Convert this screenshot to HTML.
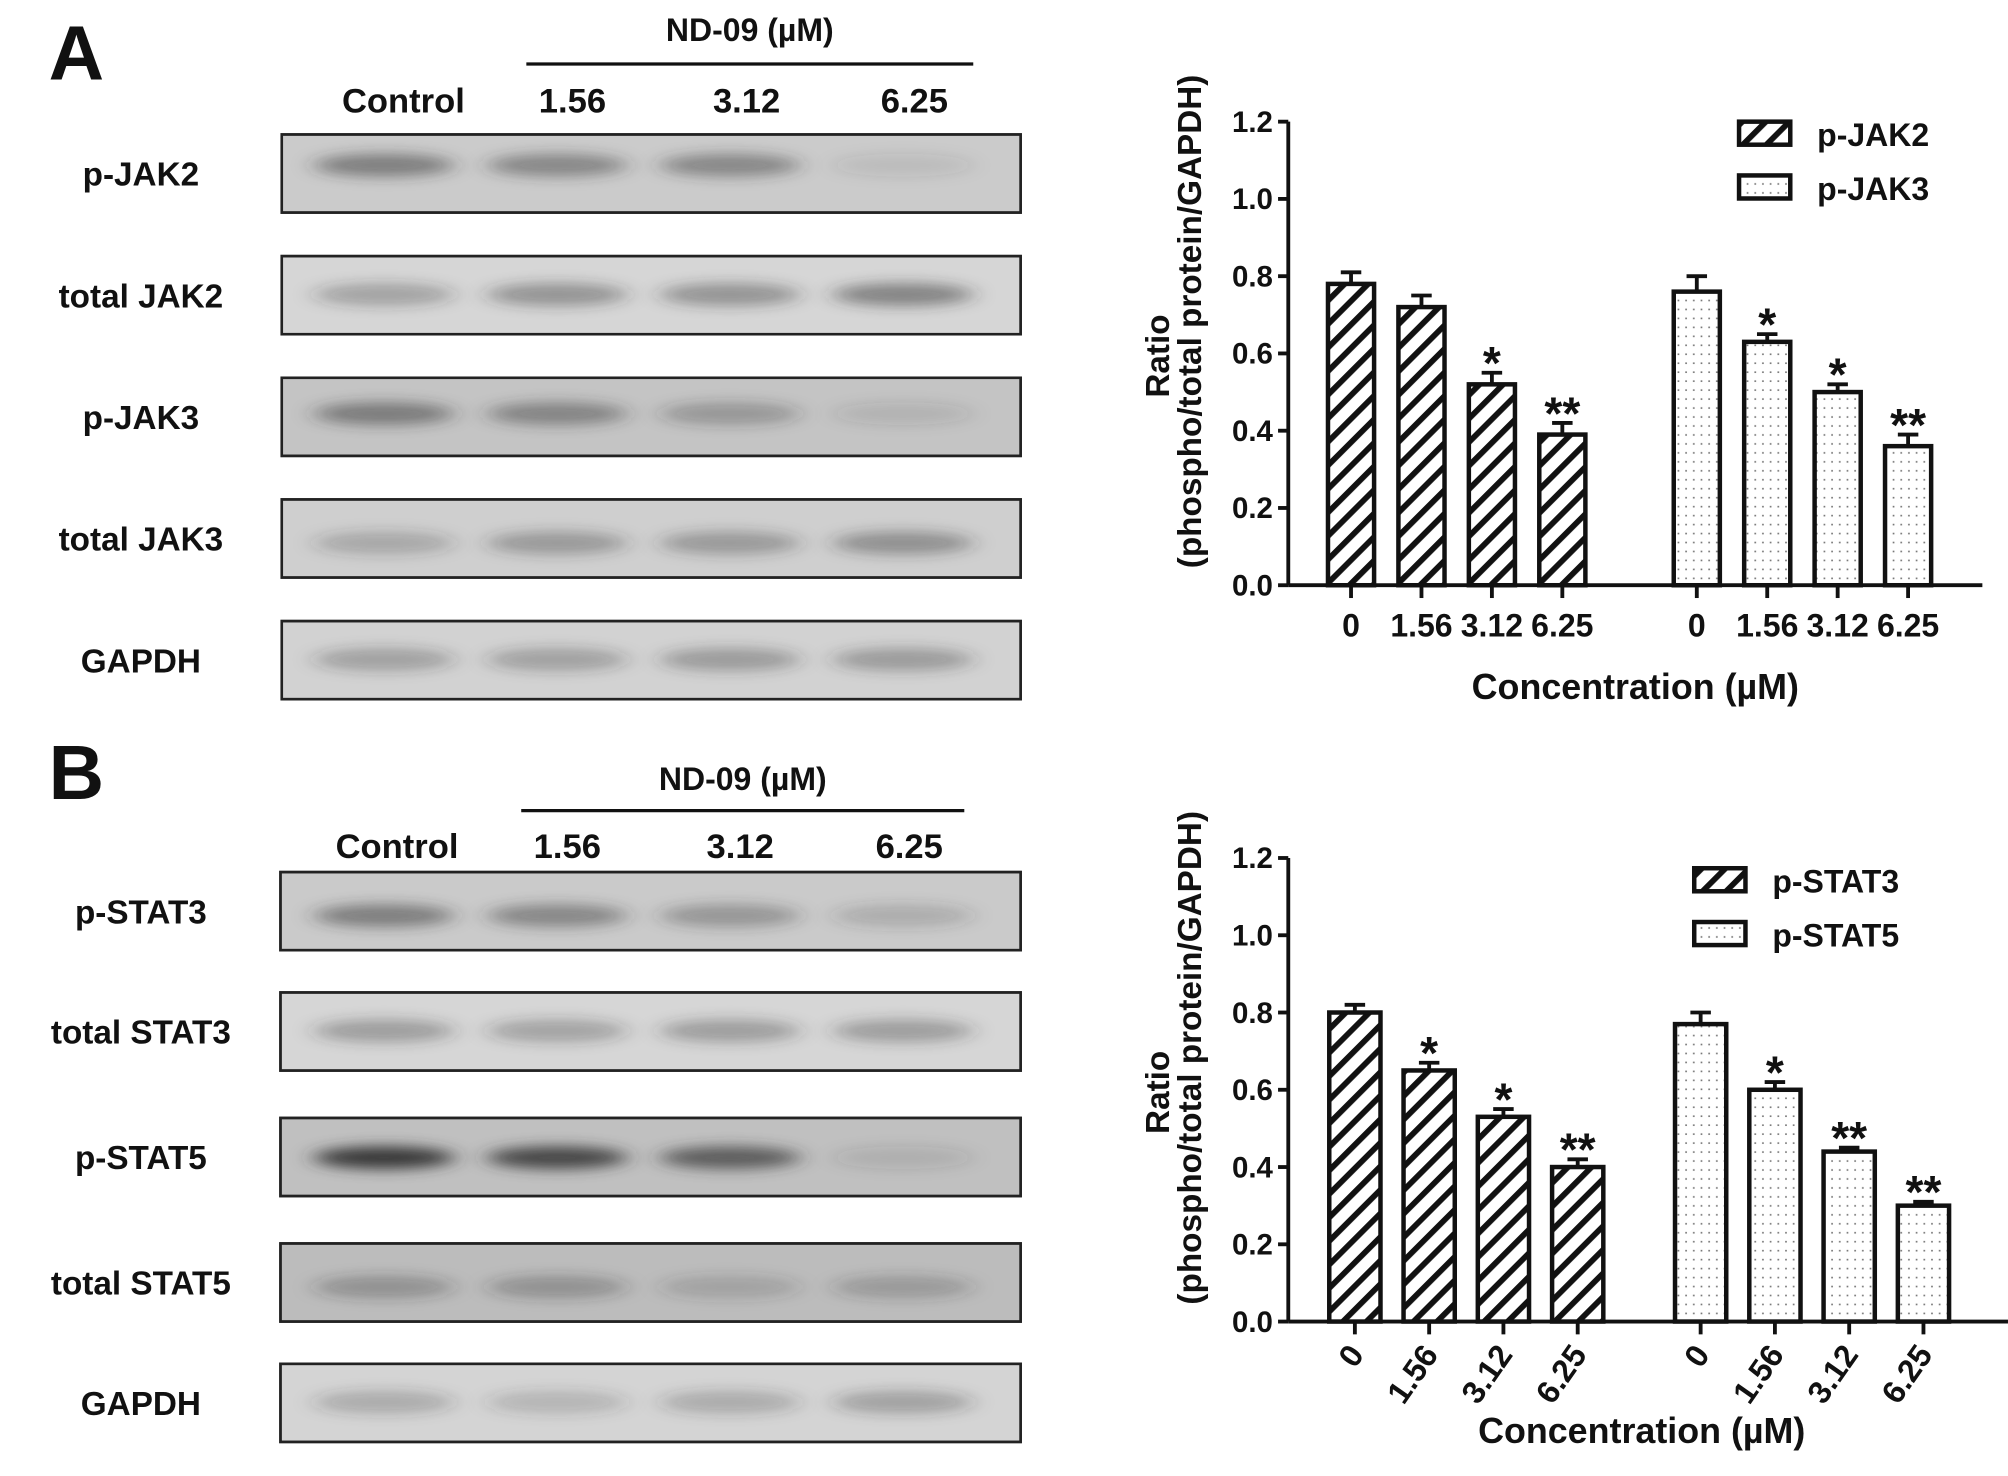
<!DOCTYPE html>
<html><head><meta charset="utf-8"><style>
html,body{margin:0;padding:0;background:#fff;}
svg{display:block;}
text{font-family:"Liberation Sans",sans-serif;font-weight:bold;fill:#111;}
</style></head><body>
<svg id="fig" xmlns="http://www.w3.org/2000/svg" width="2008" height="1476" viewBox="0 0 1568 1152.6">
<defs>
<pattern id="hatch" patternUnits="userSpaceOnUse" width="13" height="13" patternTransform="rotate(45)">
<rect width="13" height="13" fill="#fff"/><rect x="0" y="0" width="4.5" height="13" fill="#111"/>
</pattern>
<pattern id="dots" patternUnits="userSpaceOnUse" width="6" height="7">
<rect width="6" height="7" fill="#fff"/><rect x="2" y="3" width="1.3" height="1.3" fill="#777"/>
</pattern>
<filter id="blur" x="-30%" y="-100%" width="160%" height="300%"><feGaussianBlur stdDeviation="9 5"/></filter>
</defs>
<g id="left"></g>
<g id="chartA"></g>
<g id="chartB"></g>
</svg>
<script>
// ---- chart A data ----
const catsA = ["0","1.56","3.12","6.25"];
const jak2Vals = [0.78,0.72,0.52,0.39];
const jak2Err = [0.03,0.03,0.03,0.03];
const jak2Sig = ["","","*","**"];
const jak3Vals = [0.76,0.63,0.50,0.36];
const jak3Err = [0.04,0.02,0.02,0.03];
const jak3Sig = ["","*","*","**"];
// ---- chart B data ----
const catsB = ["0","1.56","3.12","6.25"];
const stat3Vals = [0.80,0.65,0.53,0.40];
const stat3Err = [0.02,0.02,0.02,0.02];
const stat3Sig = ["","*","*","**"];
const stat5Vals = [0.77,0.60,0.44,0.30];
const stat5Err = [0.03,0.02,0.01,0.01];
const stat5Sig = ["","*","**","**"];
const yTicks = [0.0,0.2,0.4,0.6,0.8,1.0,1.2];
const yTickLabels = ["0.0","0.2","0.4","0.6","0.8","1.0","1.2"];

const NS="http://www.w3.org/2000/svg";
function mk(tag,attrs,parent,txt){const e=document.createElementNS(NS,tag);for(const k in attrs)e.setAttribute(k,attrs[k]);if(txt!==undefined)e.textContent=txt;parent.appendChild(e);return e;}

function drawChart(g, cfg){
  const y = v => cfg.y0 - v/1.2*(cfg.y0-cfg.y1);
  const ax=mk('line',{x1:cfg.ax,y1:cfg.y1,x2:cfg.ax,y2:cfg.y0,stroke:'#111','stroke-width':3},g);
  
  
  const xa=mk('line',{x1:cfg.ax,y1:cfg.y0,x2:cfg.axEnd,y2:cfg.y0,stroke:'#111','stroke-width':3},g);
  
  
  yTicks.forEach((t,i)=>{
    mk('line',{x1:cfg.ax-8,y1:y(t),x2:cfg.ax,y2:y(t),stroke:'#111','stroke-width':3},g);
    const tl=mk('text',{x:cfg.ax-12,y:y(t)+8,'text-anchor':'end','font-size':23},g,yTickLabels[i]);
    
    
  });
  cfg.series.forEach((s,si)=>{
    s.vals.forEach((v,i)=>{
      const cx=cfg.start[si]+i*cfg.step;
      const bw=cfg.bw;
      const top=y(v), et=y(v+s.err[i]);
      mk('line',{x1:cx,y1:top,x2:cx,y2:et,stroke:'#111','stroke-width':3},g);
      mk('line',{x1:cx-8,y1:et,x2:cx+8,y2:et,stroke:'#111','stroke-width':3},g);
      const r=mk('rect',{x:cx-bw/2,y:top,width:bw,height:cfg.y0-top,fill:'url(#'+s.pat+')',stroke:'#111','stroke-width':3.5},g);
      
      
      mk('line',{x1:cx,y1:cfg.y0,x2:cx,y2:cfg.y0+10,stroke:'#111','stroke-width':3},g);
      if(s.sig[i]){
        const st=mk('text',{x:cx,y:et+5,'text-anchor':'middle','font-size':36,'font-weight':'normal'},g,s.sig[i]);
        
        
      }
      let lab;
      if(cfg.rotate){
        const lx=cx+8, ly=cfg.y0+26;
        lab=mk('text',{x:lx,y:ly,'text-anchor':'end','font-size':25,'font-weight':'normal',transform:'rotate(-55 '+lx+' '+ly+')'},g,cfg.cats[i]);
      } else {
        lab=mk('text',{x:cx,y:cfg.y0+40,'text-anchor':'middle','font-size':25,'font-weight':'normal'},g,cfg.cats[i]);
      }
      
      
    });
  });
  cfg.series.forEach((s,si)=>{
    const ly=cfg.legY+si*42;
    const sw=mk('rect',{x:cfg.legX,y:ly,width:40,height:18,fill:'url(#'+s.pat+')',stroke:'#111','stroke-width':3.5},g);
    
    
    const lt=mk('text',{x:cfg.legX+61,y:ly+19,'font-size':25,'font-weight':'normal'},g,s.label);
    
    
  });
  const mid=(cfg.y0+cfg.y1)/2+2;
  const t1=mk('text',{x:cfg.ax-93,y:mid,'text-anchor':'middle','font-size':26,transform:'rotate(-90 '+(cfg.ax-93)+' '+mid+')'},g,'Ratio');
  
  
  const t2=mk('text',{x:cfg.ax-68,y:mid-27,'text-anchor':'middle','font-size':26,transform:'rotate(-90 '+(cfg.ax-68)+' '+(mid-27)+')'},g,'(phospho/total protein/GAPDH)');
  
  
  const xt=mk('text',{x:cfg.xtX,y:cfg.xtY,'text-anchor':'middle','font-size':28,'font-weight':'normal'},g,'Concentration (µM)');
  
  
}

drawChart(document.getElementById('chartA'),{ax:1006,axEnd:1548,y0:457,y1:95,start:[1055,1325],step:55,bw:36,cats:catsA,rotate:false,
  legX:1358,legY:95,xtX:1277,xtY:546,
  series:[{name:'p-jak2',label:'p-JAK2',vals:jak2Vals,err:jak2Err,sig:jak2Sig,pat:'hatch'},
          {name:'p-jak3',label:'p-JAK3',vals:jak3Vals,err:jak3Err,sig:jak3Sig,pat:'dots'}]});
drawChart(document.getElementById('chartB'),{ax:1006,axEnd:1568,y0:1032,y1:670,start:[1058,1328],step:58,bw:40,cats:catsB,rotate:true,
  legX:1323,legY:678,xtX:1282,xtY:1127,
  series:[{name:'p-stat3',label:'p-STAT3',vals:stat3Vals,err:stat3Err,sig:stat3Sig,pat:'hatch'},
          {name:'p-stat5',label:'p-STAT5',vals:stat5Vals,err:stat5Err,sig:stat5Sig,pat:'dots'}]});

// ---- western blots ----
const L=document.getElementById('left');
const lanes=[300,435,570,705];
const blotsA=[
 {label:'p-JAK2',y:105,bg:'#cbcbcb',band:[0.5,0.45,0.45,0.1],by:24},
 {label:'total JAK2',y:200,bg:'#d6d6d6',band:[0.3,0.4,0.4,0.5],by:30},
 {label:'p-JAK3',y:295,bg:'#c4c4c4',band:[0.5,0.45,0.3,0.12],by:28},
 {label:'total JAK3',y:390,bg:'#cfcfcf',band:[0.25,0.35,0.35,0.4],by:34},
 {label:'GAPDH',y:485,bg:'#d2d2d2',band:[0.3,0.3,0.35,0.35],by:30}];
const blotsB=[
 {label:'p-STAT3',y:681,bg:'#cacaca',band:[0.5,0.45,0.35,0.2],by:34},
 {label:'total STAT3',y:775,bg:'#d6d6d6',band:[0.35,0.3,0.35,0.35],by:30},
 {label:'p-STAT5',y:873,bg:'#c0c0c0',band:[0.95,0.85,0.7,0.12],by:31},
 {label:'total STAT5',y:971,bg:'#bcbcbc',band:[0.3,0.3,0.2,0.25],by:34},
 {label:'GAPDH',y:1065,bg:'#d4d4d4',band:[0.25,0.2,0.25,0.3],by:30}];
function header(letter,ly,ndY,lineY,lx1,lx2,labY,laneLab){
  const a=mk('text',{x:38,y:ly,'font-size':60},L,letter);
  
  
  const nd=mk('text',{x:(lx1+lx2)/2,y:ndY,'text-anchor':'middle','font-size':25},L,'ND-09 (µM)');
  
  
  mk('line',{x1:lx1,y1:lineY,x2:lx2,y2:lineY,stroke:'#111','stroke-width':2.5},L);
  ['Control','1.56','3.12','6.25'].forEach((t,i)=>{
    const e=mk('text',{x:laneLab[i],y:labY,'text-anchor':'middle','font-size':27},L,t);
    
    
  });
}
function blots(list,x1,x2){
  list.forEach(b=>{
    const bx=mk('rect',{x:x1,y:b.y,width:x2-x1,height:61,fill:b.bg,stroke:'#222','stroke-width':2},L);
    
    
    b.band.forEach((v,i)=>{
      mk('ellipse',{cx:lanes[i],cy:b.y+b.by,rx:55,ry:9,fill:'#333','fill-opacity':v,filter:'url(#blur)'},L);
    });
    mk('rect',{x:x1,y:b.y,width:x2-x1,height:61,fill:'none',stroke:'#222','stroke-width':2},L);
    const t=mk('text',{x:110,y:b.y+40,'text-anchor':'middle','font-size':26},L,b.label);
    
    
  });
}
header('A',62,32,50,411,760,88,[315,447,583,714]);
blots(blotsA,220,797);
header('B',624,617,633,407,753,670,[310,443,578,710]);
blots(blotsB,219,797);
</script>
</body></html>
